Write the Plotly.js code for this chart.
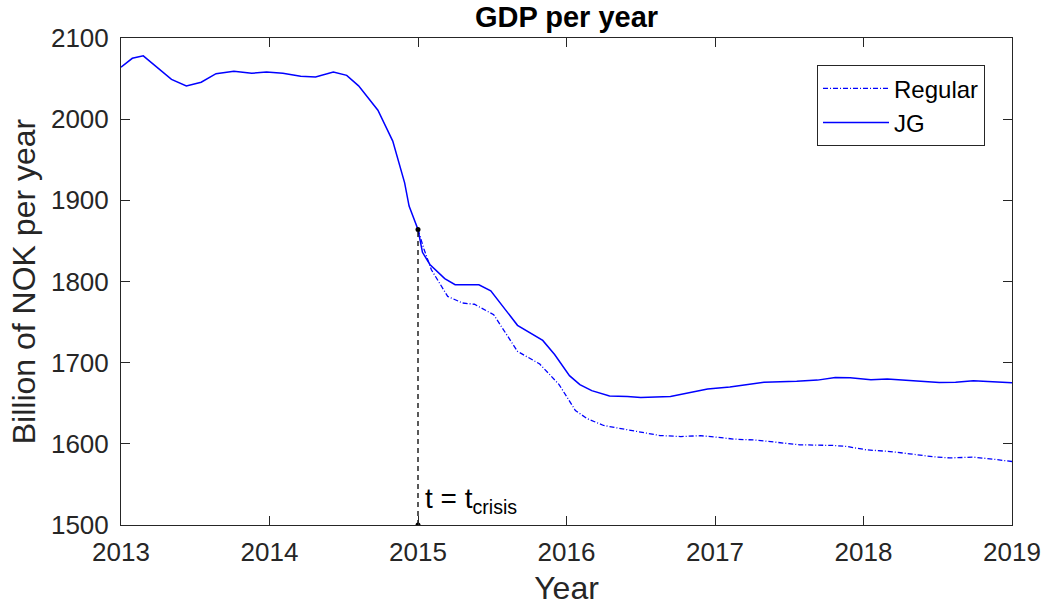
<!DOCTYPE html>
<html>
<head>
<meta charset="utf-8">
<script src="https://cdn.plot.ly/plotly-3.0.1.min.js"></script>
<style>
html,body{margin:0;padding:0;background:#fff;}
#chart{width:1045px;height:606px;}
</style>
</head>
<body>
<div id="chart"></div>
<script>
// JG (job guarantee) series: time in years, GDP in billion NOK per year
const jgYears = [2013.00, 2013.076, 2013.15, 2013.34, 2013.44, 2013.54, 2013.64, 2013.76, 2013.88, 2013.98,
  2014.09, 2014.21, 2014.31, 2014.43, 2014.52, 2014.60, 2014.73, 2014.83, 2014.91, 2014.94, 2015.00,
  2015.03, 2015.08, 2015.18, 2015.25, 2015.41, 2015.49, 2015.67, 2015.84, 2015.92, 2016.02, 2016.09,
  2016.17, 2016.29, 2016.41, 2016.50, 2016.70, 2016.81, 2016.95, 2017.10, 2017.33, 2017.55, 2017.69,
  2017.81, 2017.91, 2018.05, 2018.16, 2018.31, 2018.51, 2018.62, 2018.74, 2019.00];
const jgValues = [2064, 2075, 2078, 2049, 2041, 2045.5, 2056, 2059, 2056.6, 2058,
  2056.6, 2053, 2052, 2058, 2054, 2041, 2011, 1973, 1921.5, 1893, 1864,
  1836, 1821, 1803.5, 1796, 1796, 1788.6, 1746, 1727.4, 1710, 1684, 1673,
  1665.5, 1659, 1658.3, 1657, 1658.3, 1662.5, 1667.5, 1670, 1676, 1677, 1678.5,
  1681.7, 1681.4, 1679, 1680, 1678, 1675.6, 1676, 1677.7, 1675.2];

// Regular series (after the crisis)
const regYears = [2015.00, 2015.04, 2015.09, 2015.14, 2015.20, 2015.30, 2015.38, 2015.51, 2015.67, 2015.82,
  2015.91, 2015.95, 2016.06, 2016.14, 2016.25, 2016.36, 2016.50, 2016.63, 2016.77, 2016.90, 2016.99,
  2017.13, 2017.28, 2017.42, 2017.57, 2017.80, 2017.89, 2018.02, 2018.18, 2018.31, 2018.47, 2018.58,
  2018.74, 2018.88, 2019.00];
const regValues = [1864, 1840, 1814.5, 1800, 1781.6, 1773.5, 1772, 1759, 1714, 1698.3,
  1680, 1673, 1641, 1631, 1622.6, 1619, 1614, 1610.2, 1609, 1610, 1608.6,
  1605.8, 1604.6, 1602, 1598.8, 1598, 1596.7, 1592.6, 1590.5, 1587.7, 1584, 1582.7,
  1583.6, 1581, 1578.2];

// Crisis marker
const crisisYear = 2015;
const crisisValue = 1864;
const axisBottom = 1500;

const seriesNames = ['Regular', 'JG'];
const xTicks = [2013, 2014, 2015, 2016, 2017, 2018, 2019];
const yTicks = [1500, 1600, 1700, 1800, 1900, 2000, 2100];

const FONT = 'Liberation Sans, Arial, Helvetica, sans-serif';
const AX = '#262626';

const traces = [
  {
    x: regYears, y: regValues, name: seriesNames[0], type: 'scatter', mode: 'lines',
    line: {color: '#0000ff', width: 1.3, dash: '5px,2px,1px,2px'}
  },
  {
    x: jgYears, y: jgValues, name: seriesNames[1], type: 'scatter', mode: 'lines',
    line: {color: '#0000ff', width: 1.5}
  },
  {
    x: [crisisYear, crisisYear], y: [axisBottom, crisisValue], type: 'scatter', mode: 'lines+markers',
    showlegend: false, hoverinfo: 'skip',
    line: {color: '#000000', width: 1.3, dash: '5px,4px'},
    marker: {color: '#000000', size: 5}
  }
];

const layout = {
  width: 1045, height: 606,
  paper_bgcolor: '#ffffff', plot_bgcolor: '#ffffff',
  margin: {l: 121, r: 33, t: 38, b: 81, pad: 0},
  font: {family: FONT, color: '#000'},
  title: {text: '<b>GDP per year</b>', font: {family: FONT, size: 29, color: '#000'},
    x: 0.5, xref: 'paper', xanchor: 'center', y: 1, yref: 'container', yanchor: 'top', pad: {t: 7}},
  showlegend: true,
  legend: {
    x: 0.9697, xanchor: 'right', y: 0.944, yanchor: 'top',
    bgcolor: '#ffffff', bordercolor: AX, borderwidth: 1,
    font: {family: FONT, size: 24, color: '#000'},
    itemwidth: 66, tracegroupgap: 0
  },
  xaxis: {
    range: [2013, 2019], tickvals: xTicks, ticktext: xTicks.map(String),
    ticks: 'inside', ticklen: 9, tickcolor: AX, tickwidth: 1,
    showline: true, linecolor: AX, linewidth: 1, mirror: 'allticks',
    showgrid: false, zeroline: false,
    ticklabelstandoff: 4,
    tickfont: {family: FONT, size: 26, color: AX},
    title: {text: 'Year', font: {family: FONT, size: 32, color: AX}, standoff: 11}
  },
  yaxis: {
    range: [1500, 2100], tickvals: yTicks, ticktext: yTicks.map(String),
    ticks: 'inside', ticklen: 9, tickcolor: AX, tickwidth: 1,
    showline: true, linecolor: AX, linewidth: 1, mirror: 'allticks',
    showgrid: false, zeroline: false,
    ticklabelstandoff: 6,
    tickfont: {family: FONT, size: 26, color: AX},
    title: {text: 'Billion of NOK per year', font: {family: FONT, size: 32, color: AX}, standoff: 5}
  },
  annotations: [{
    x: crisisYear, y: 1530, xref: 'x', yref: 'y', xanchor: 'left', yanchor: 'middle', xshift: 5,
    showarrow: false, text: 't = t<sub>crisis</sub>',
    font: {family: FONT, size: 28, color: '#000'}
  }]
};

Plotly.newPlot('chart', traces, layout, {displayModeBar: false, staticPlot: true});
</script>
</body>
</html>
